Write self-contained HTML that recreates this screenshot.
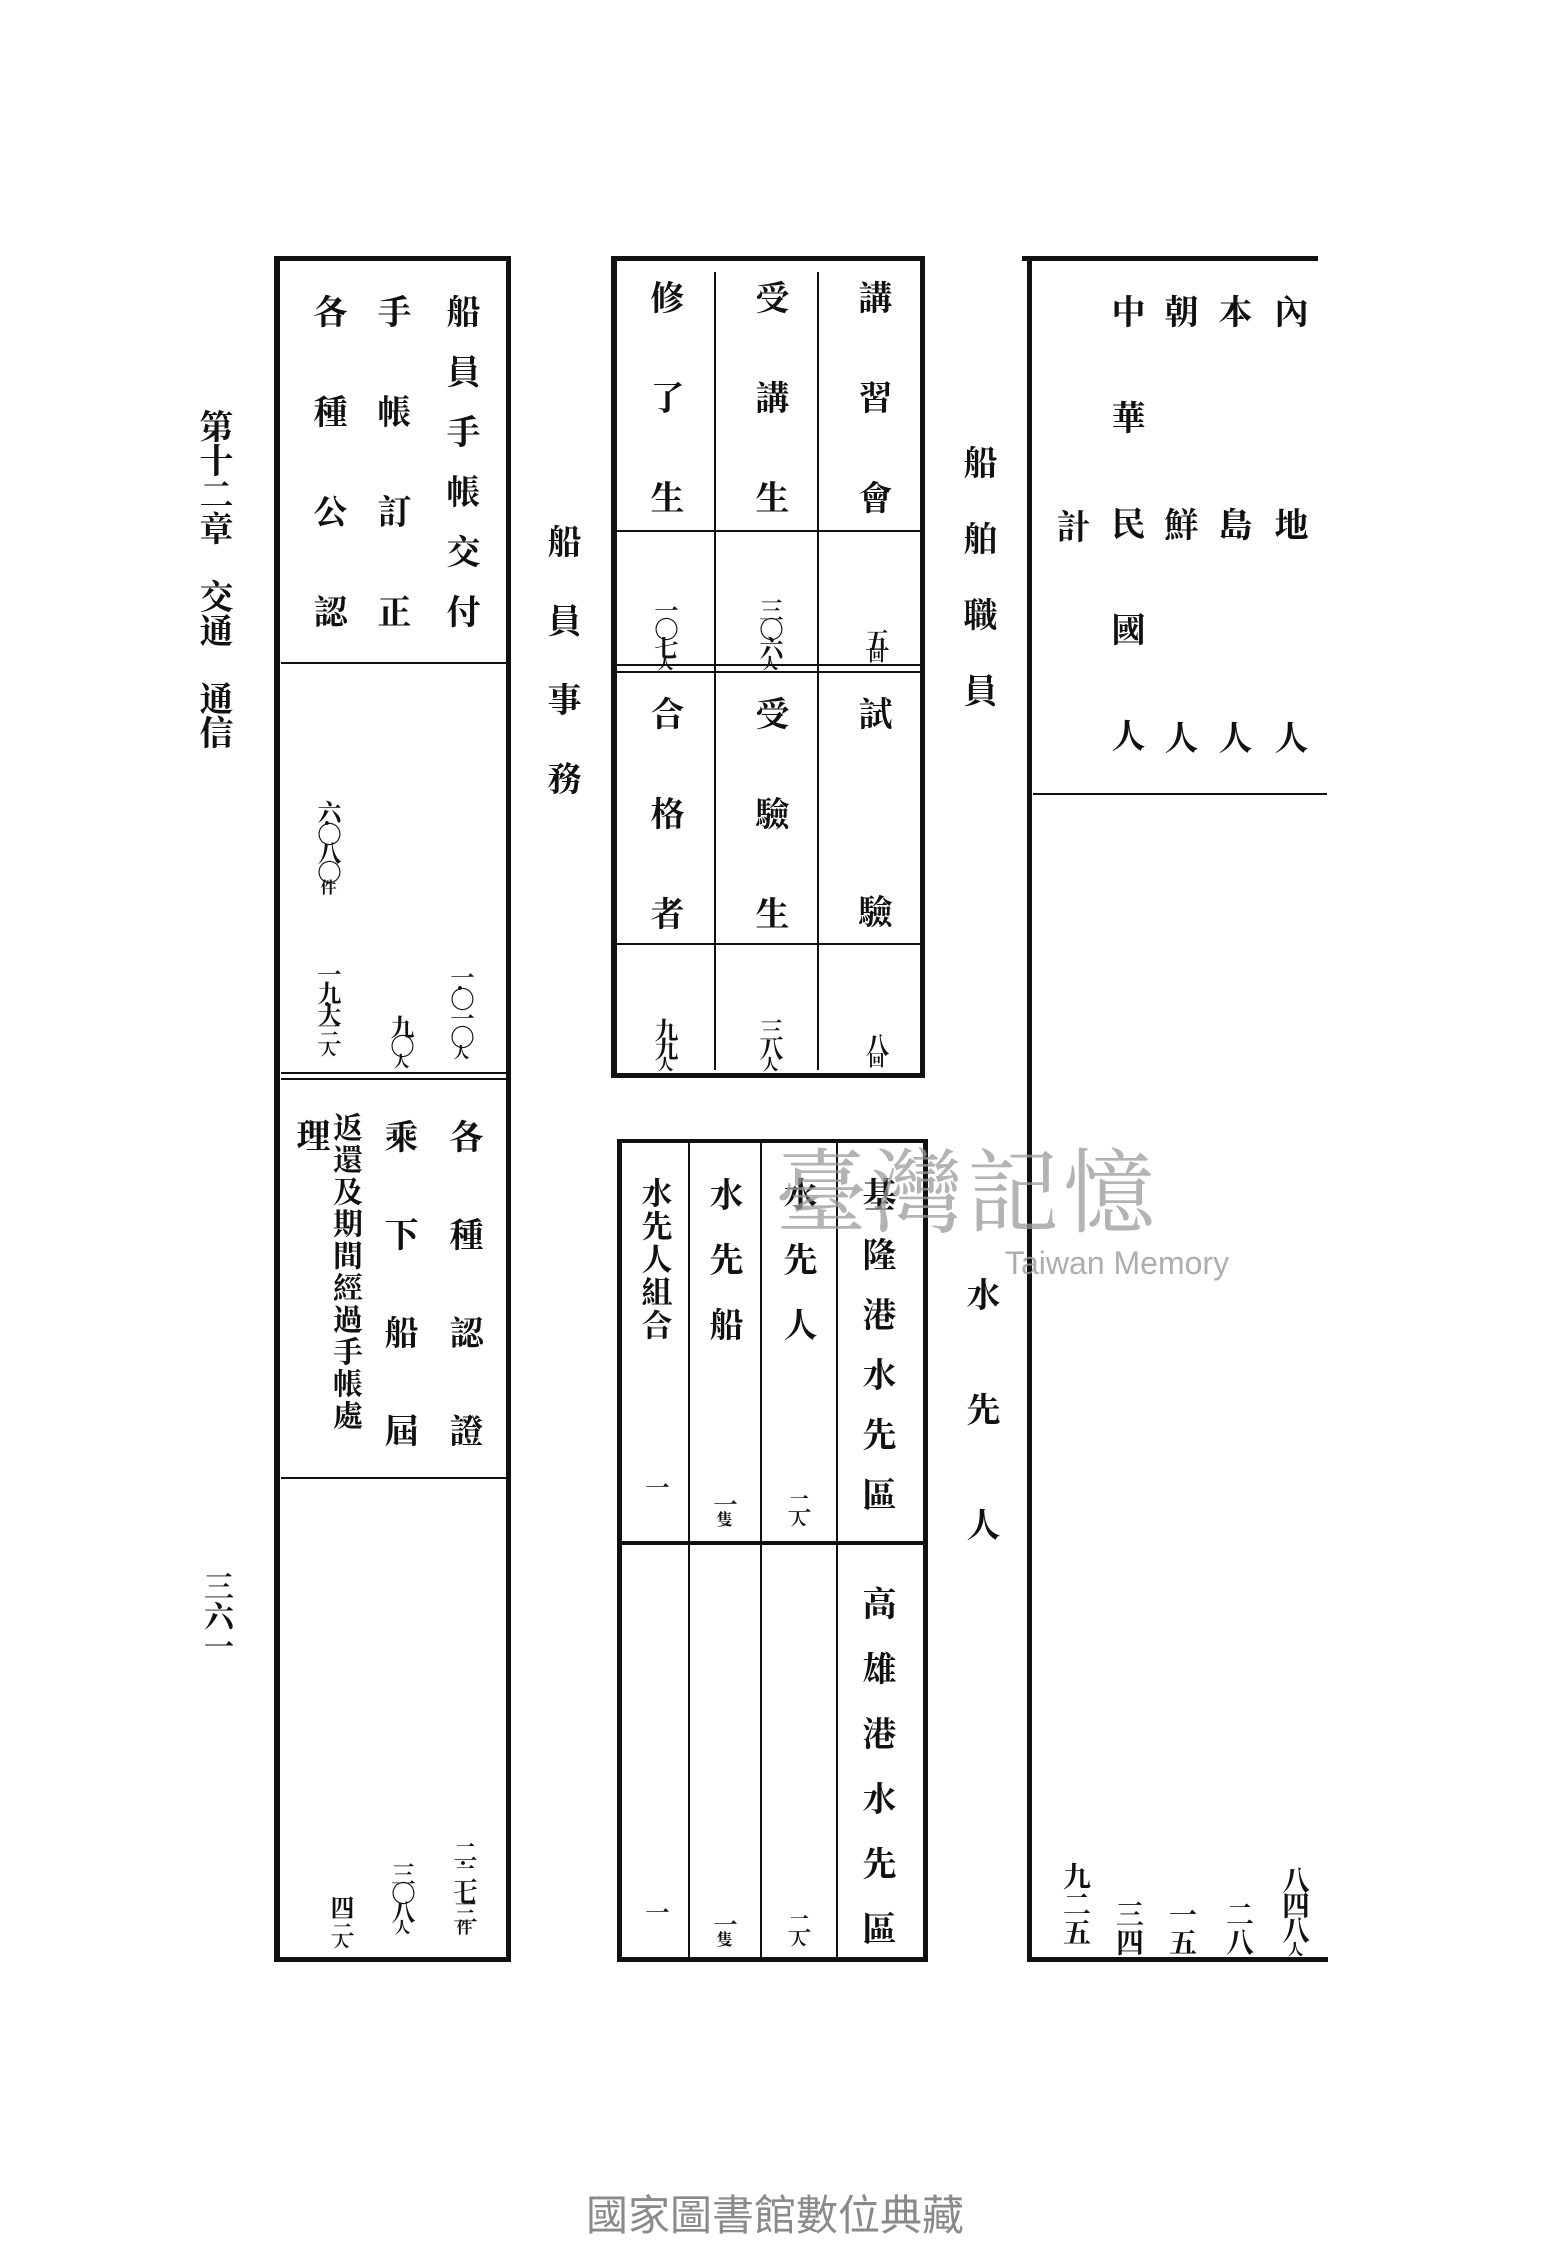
<!DOCTYPE html>
<html><head><meta charset="utf-8"><style>
html,body{margin:0;padding:0;background:#fff;}
body{width:1550px;height:2250px;position:relative;overflow:hidden;font-family:"Liberation Serif","Noto Serif CJK SC","Noto Sans CJK SC",serif;color:#111;}
.v{position:absolute;writing-mode:vertical-rl;font-size:34px;line-height:1;transform:translateX(-50%);font-weight:700;white-space:nowrap;}
.n{font-size:24px;letter-spacing:-5px;}
.r{font-size:28px;}
.s{font-size:16px;letter-spacing:0;}
.b{position:absolute;background:#111;}
</style></head><body>

<!-- margin -->
<div class="v" style="left:212px;top:409px;font-size:34px;">第十二章　交通　通信</div>
<div class="v" style="left:215px;top:1571px;font-size:30px;">三六一</div>

<!-- LEFT TABLE -->
<div class="b" style="left:274px;top:256px;width:6px;height:1706px"></div>
<div class="b" style="left:506px;top:256px;width:5px;height:1706px"></div>
<div class="b" style="left:274px;top:256px;width:237px;height:5px"></div>
<div class="b" style="left:274px;top:1957px;width:237px;height:5px"></div>
<div class="b" style="left:281px;top:662px;width:226px;height:2px"></div>
<div class="b" style="left:281px;top:1072px;width:226px;height:2px"></div>
<div class="b" style="left:281px;top:1078px;width:226px;height:2px"></div>
<div class="b" style="left:281px;top:1477px;width:226px;height:2px"></div>

<div class="v" style="left:459px;top:294px;letter-spacing:26px;">船員手帳交付</div>
<div class="v" style="left:390px;top:294px;letter-spacing:66px;">手帳訂正</div>
<div class="v" style="left:326px;top:294px;letter-spacing:66px;">各種公認</div>
<div class="v n" style="left:459px;top:965px;">一·〇一〇<span class="s">人</span></div>
<div class="v n" style="left:399px;top:1015px;">九〇<span class="s">人</span></div>
<div class="v n" style="left:326px;top:800px;">六·〇八〇<span class="s">件</span></div>
<div class="v n" style="left:326px;top:962px;">一九·大三<span class="s">人</span></div>

<div class="v" style="left:462px;top:1119px;letter-spacing:64px;">各種認證</div>
<div class="v" style="left:397px;top:1119px;letter-spacing:64px;">乘下船屆</div>
<div class="v" style="left:344px;top:1112px;font-size:30px;letter-spacing:2px;">返還及期間經過手帳處</div>
<div class="v" style="left:309px;top:1118px;">理</div>
<div class="v n" style="left:462px;top:1840px;">二·二七三<span class="s">件</span></div>
<div class="v n" style="left:400px;top:1862px;">三〇八<span class="s">人</span></div>
<div class="v n" style="left:339px;top:1895px;">四三<span class="s">人</span></div>

<div class="v" style="left:560px;top:524px;letter-spacing:45px;">船員事務</div>

<!-- MIDDLE TOP TABLE -->
<div class="b" style="left:611px;top:256px;width:6px;height:822px"></div>
<div class="b" style="left:920px;top:256px;width:5px;height:822px"></div>
<div class="b" style="left:611px;top:256px;width:314px;height:5px"></div>
<div class="b" style="left:611px;top:1073px;width:314px;height:5px"></div>
<div class="b" style="left:714px;top:272px;width:2px;height:798px"></div>
<div class="b" style="left:817px;top:272px;width:2px;height:798px"></div>
<div class="b" style="left:617px;top:530px;width:303px;height:2px"></div>
<div class="b" style="left:617px;top:664px;width:303px;height:2px"></div>
<div class="b" style="left:617px;top:671px;width:303px;height:2px"></div>
<div class="b" style="left:617px;top:943px;width:303px;height:2px"></div>

<div class="v" style="left:871px;top:280px;letter-spacing:66px;">講習會</div>
<div class="v" style="left:768px;top:280px;letter-spacing:66px;">受講生</div>
<div class="v" style="left:663px;top:280px;letter-spacing:66px;">修了生</div>
<div class="v n" style="left:663px;top:598px;">一〇七<span class="s">人</span></div>
<div class="v n" style="left:768px;top:598px;">三〇六<span class="s">人</span></div>
<div class="v n" style="left:874px;top:628px;">五<span class="s">回</span></div>
<div class="v" style="left:871px;top:696px;letter-spacing:164px;">試驗</div>
<div class="v" style="left:768px;top:696px;letter-spacing:66px;">受驗生</div>
<div class="v" style="left:663px;top:696px;letter-spacing:66px;">合格者</div>
<div class="v n" style="left:663px;top:1018px;">九九<span class="s">人</span></div>
<div class="v n" style="left:768px;top:1018px;">三八<span class="s">人</span></div>
<div class="v n" style="left:874px;top:1033px;">八<span class="s">回</span></div>

<div class="v" style="left:976px;top:445px;letter-spacing:42px;">船舶職員</div>

<!-- MIDDLE BOTTOM TABLE -->
<div class="b" style="left:617px;top:1139px;width:5px;height:823px"></div>
<div class="b" style="left:923px;top:1139px;width:5px;height:823px"></div>
<div class="b" style="left:617px;top:1139px;width:311px;height:4px"></div>
<div class="b" style="left:617px;top:1957px;width:311px;height:5px"></div>
<div class="b" style="left:688px;top:1143px;width:2px;height:815px"></div>
<div class="b" style="left:760px;top:1143px;width:2px;height:815px"></div>
<div class="b" style="left:836px;top:1143px;width:2px;height:815px"></div>
<div class="b" style="left:622px;top:1541px;width:301px;height:4px"></div>

<div class="v" style="left:875px;top:1177px;letter-spacing:26px;">基隆港水先區</div>
<div class="v" style="left:796px;top:1177px;letter-spacing:31px;">水先人</div>
<div class="v" style="left:722px;top:1177px;letter-spacing:31px;">水先船</div>
<div class="v" style="left:654px;top:1177px;font-size:31px;letter-spacing:2px;">水先人組合</div>
<div class="v n" style="left:796px;top:1492px;">二<span class="s">人</span></div>
<div class="v n" style="left:722px;top:1492px;">一<span class="s">隻</span></div>
<div class="v n" style="left:654px;top:1475px;">一</div>
<div class="v" style="left:875px;top:1586px;letter-spacing:31px;">高雄港水先區</div>
<div class="v n" style="left:796px;top:1912px;">二<span class="s">人</span></div>
<div class="v n" style="left:722px;top:1912px;">一<span class="s">隻</span></div>
<div class="v n" style="left:654px;top:1900px;">一</div>

<div class="v" style="left:979px;top:1277px;letter-spacing:81px;">水先人</div>

<!-- RIGHT TABLE -->
<div class="b" style="left:1022px;top:256px;width:296px;height:5px"></div>
<div class="b" style="left:1027px;top:256px;width:5px;height:1706px"></div>
<div class="b" style="left:1030px;top:1957px;width:298px;height:5px"></div>
<div class="b" style="left:1033px;top:793px;width:294px;height:2px"></div>

<div class="v" style="left:1287px;top:294px;letter-spacing:179px;">內地人</div>
<div class="v" style="left:1231px;top:294px;letter-spacing:179px;">本島人</div>
<div class="v" style="left:1177px;top:294px;letter-spacing:179px;">朝鮮人</div>
<div class="v" style="left:1124px;top:294px;letter-spacing:72px;">中華民國人</div>
<div class="v" style="left:1069px;top:509px;">計</div>
<div class="v r" style="left:1293px;top:1866px;letter-spacing:-3px;">八四八<span class="s">人</span></div>
<div class="v r" style="left:1237px;top:1900px;">二八</div>
<div class="v r" style="left:1180px;top:1900px;">一五</div>
<div class="v r" style="left:1127px;top:1900px;">三四</div>
<div class="v r" style="left:1074px;top:1862px;">九二五</div>

<!-- watermark -->
<div style="position:absolute;left:775px;top:1120px;font-size:92px;color:#9a9a9a;opacity:.75;font-family:'Noto Serif CJK SC',serif;letter-spacing:4px;white-space:nowrap;">臺灣記憶</div>
<div style="position:absolute;left:1005px;top:1245px;font-size:32px;color:#9a9a9a;opacity:.8;font-family:'Liberation Sans',sans-serif;white-space:nowrap;">Taiwan Memory</div>

<!-- footer -->
<div style="position:absolute;left:0;width:1550px;top:2182px;text-align:center;font-size:42px;color:#8a8a8a;font-family:'Liberation Sans','Noto Sans CJK TC',sans-serif;">國家圖書館數位典藏</div>
</body></html>
